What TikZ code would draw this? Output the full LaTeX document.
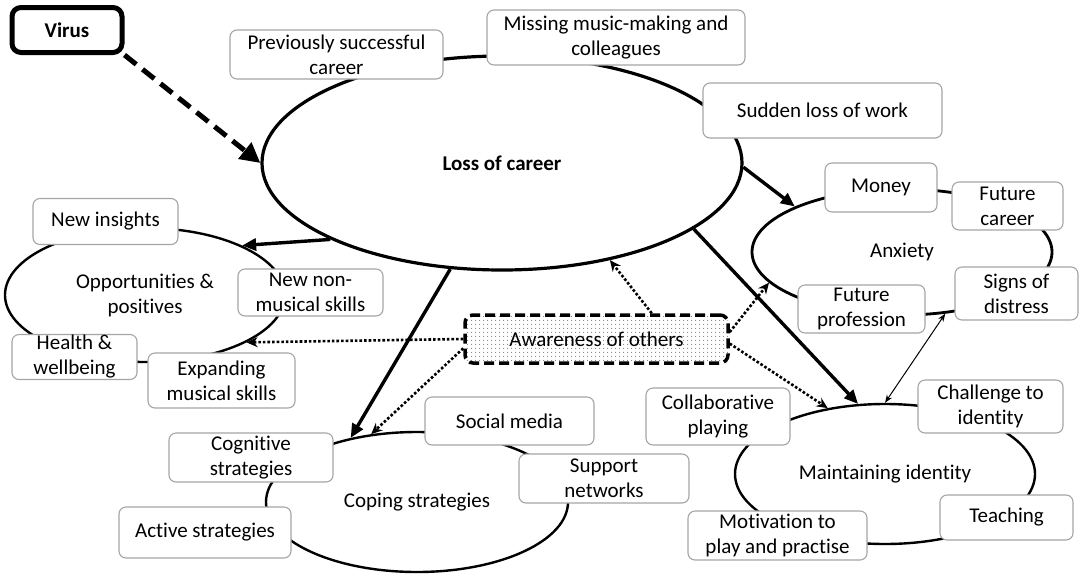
\documentclass[tikz,border=0pt]{standalone}
\usepackage{fontspec}
\setmainfont{Carlito}[Ligatures=NoCommon]
\usetikzlibrary{positioning,arrows.meta,shapes.geometric,patterns.meta}
\definecolor{boxline}{RGB}{165,165,165}

\tikzset{
  theme/.style={ellipse, draw, line width=2.4pt, inner sep=0pt, align=center},
  subtheme/.style={draw=boxline, line width=1.1pt, rounded corners=7pt, fill=white, inner sep=0pt, align=center},
  link/.style={line width=3.4pt, -{Triangle[length=14pt,width=12pt]}},
  awarelink/.style={line width=2.6pt, dotted, -{Stealth[length=11pt,width=10pt]}},
}

\begin{document}
\begin{tikzpicture}[x=1pt, y=-1pt, font=\fontsize{21}{25}\selectfont]
        \useasboundingbox (0,0) rectangle (1084,579);
        % main themes
        \node[theme, line width=3.2pt, minimum width=480, minimum height=214, font=\fontsize{21}{25}\selectfont\bfseries] (loss) at (502,163) {Loss of career};
        \node[theme, line width=2.8pt, minimum width=300, minimum height=126] (anxiety) at (902,252) {Anxiety};
        \node[theme, minimum width=280, minimum height=134] (opps) at (145,295) {Opportunities \&\\positives};
        \node[theme, minimum width=302, minimum height=140] (coping) at (417,502) {Coping strategies};
        \node[theme, minimum width=300, minimum height=140] (identity) at (885,474) {Maintaining identity};
        % sub-themes
        \node[subtheme, minimum width=213, minimum height=49] (prevcareer) at (336.5,54.5) {Previously successful\\career};
        \node[subtheme, minimum width=258, minimum height=55] (missing) at (616,37.5) {Missing music-making and\\colleagues};
        \node[subtheme, minimum width=239, minimum height=55] (suddenloss) at (822.5,110.5) {Sudden loss of work};
        \node[subtheme, minimum width=112, minimum height=49] (money) at (881,187.5) {Money};
        \node[subtheme, minimum width=111, minimum height=48] (futurecareer) at (1007.5,206) {Future\\career};
        \node[subtheme, minimum width=123, minimum height=53] (distress) at (1016.5,293.5) {Signs of\\distress};
        \node[subtheme, minimum width=127, minimum height=48] (profession) at (861.5,309) {Future\\profession};
        \node[subtheme, minimum width=145, minimum height=46] (insights) at (105.5,221.5) {New insights};
        \node[subtheme, minimum width=145, minimum height=47] (nonmusical) at (310.5,292.5) {New non-\\musical skills};
        \node[subtheme, minimum width=125, minimum height=45] (health) at (74.5,357) {Health \&\\wellbeing};
        \node[subtheme, minimum width=147, minimum height=55] (expanding) at (221.5,380.5) {Expanding\\musical skills};
        \node[subtheme, minimum width=164, minimum height=49] (cognitive) at (251,457.5) {Cognitive\\strategies};
        \node[subtheme, minimum width=169, minimum height=48] (socialmedia) at (509.5,421) {Social media};
        \node[subtheme, minimum width=170, minimum height=49] (support) at (604,478.5) {Support\\networks};
        \node[subtheme, minimum width=172, minimum height=51] (active) at (205,532.5) {Active strategies};
        \node[subtheme, minimum width=144, minimum height=57] (collab) at (718,416.5) {Collaborative\\playing};
        \node[subtheme, minimum width=145, minimum height=53] (challenge) at (990.5,406.5) {Challenge to\\identity};
        \node[subtheme, minimum width=133, minimum height=45] (teaching) at (1006.5,517.5) {Teaching};
        \node[subtheme, minimum width=179, minimum height=49] (motivation) at (777.5,535.5) {Motivation to\\play and practise};
        % trigger and mediator
        \node[draw, line width=5pt, rounded corners=9pt, minimum width=110, minimum height=45, inner sep=0pt, font=\fontsize{21}{25}\selectfont\bfseries] (virus) at (67,30) {Virus};
        \node[draw, line width=3.5pt, dash pattern=on 10pt off 5pt, rounded corners=8pt, pattern={Dots[distance=4pt,radius=0.7pt]}, pattern color=gray, minimum width=263, minimum height=48, inner sep=0pt] (aware) at (596.5,339) {Awareness of others};
        % links
        \draw[line width=5pt, dash pattern=on 15pt off 8pt, -{Triangle[length=20pt,width=20pt]}] (virus.south east) -- (loss.180);
        \draw[link] (loss.-1) -- (anxiety.157);
        \draw[link] (loss.204) -- (opps.27);
        \draw[link] (loss.244) -- (coping.136);
        \draw[link] (loss.-19) -- (identity.111);
        \draw[awarelink] (aware.25) -- (loss.-42);
        \draw[awarelink] (aware.3) -- (anxiety.193);
        \draw[awarelink] (aware.-2) -- (identity.131);
        \draw[awarelink] (aware.180) -- (opps.-25);
        \draw[awarelink] (aware.184) -- (coping.124);
        \draw[line width=1pt, {Stealth[length=8pt,width=6pt]}-{Stealth[length=8pt,width=6pt]}] (anxiety.-55) -- (identity.north);
      \end{tikzpicture}
\end{document}
